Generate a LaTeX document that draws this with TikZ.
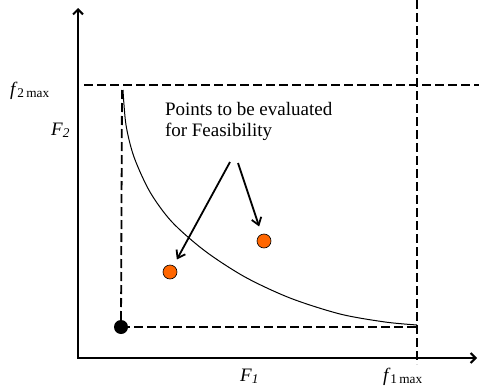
\documentclass[tikz,border=0pt]{standalone}
\usepackage{fontspec}
\setmainfont{Liberation Serif}
\usetikzlibrary{arrows.meta}

\tikzset{
  axis/.style={line width=2pt,line cap=rect,-{Straight Barb[length=5pt,width=10pt]}},
  bound/.style={line width=1.8pt,dash pattern=on 9pt off 4pt},
  callout/.style={line width=1.8pt,-{Straight Barb[length=7pt,width=10pt]}},
  lbl/.style={inner sep=0pt,outer sep=0pt,anchor=base west,font=\fontsize{19}{21.7}\selectfont},
  evalpt/.style={circle,draw=black,line width=0.6pt,fill={rgb,255:red,255;green,102;blue,0},minimum size=14pt,inner sep=0pt},
  idealpt/.style={circle,fill=black,minimum size=14pt,inner sep=0pt},
}

\begin{document}
\begin{tikzpicture}[x=1pt,y=-1pt]
\path[use as bounding box] (0,0) rectangle (479,388);
\path[fill=white,draw=none] (0,0) rectangle (479,388);
% axes
\coordinate (O) at (78,358);
\coordinate (ytop) at (78,8);
\coordinate (xend) at (477,358);
\draw[axis] (O) -- (ytop);
\draw[axis] (O) -- (xend);
% bounds
\coordinate (f2l) at (84,85);
\coordinate (f2r) at (479,85);
\coordinate (f1t) at (417,0);
\coordinate (f1b) at (417,364);
\coordinate (f2top) at (122,90);
\coordinate (f1corner) at (417,327);
\draw[bound] (f2l) -- (f2r);
\draw[bound] (f1t) -- (f1b);
\node[idealpt] (ideal) at (121,327) {};
\draw[bound] (f2top) -- (ideal.center);
\draw[bound] (ideal.center) -- (f1corner);
% pareto front
\draw[line width=1pt] plot[smooth] coordinates {(123,90) (126,125) (134,157) (150,192) (172,222) (205,251) (245,277) (290,298) (340,314) (385,322) (417,325)};
% points
\node[evalpt] (ptA) at (170,272) {};
\node[evalpt] (ptB) at (264,241) {};
\node[lbl,align=left] (pts) at (165,136.7) {Points to be evaluated\\for Feasibility};
\coordinate (c1) at (230,162);
\coordinate (c2) at (238,163);
\draw[callout,shorten >=7pt] (c1) -- (ptA);
\draw[callout,shorten >=8pt] (c2) -- (ptB);
% labels
\node[lbl] (f2max) at (10,95) {\textit{f}\textsubscript{2\,max}};
\node[lbl] (F2) at (51,135) {\textit{F}\textsubscript{\textit{2}}};
\node[lbl] (F1) at (240,381) {\textit{F}\textsubscript{\textit{1}}};
\node[lbl] (f1max) at (383,381) {\textit{f}\textsubscript{1\,max}};
\end{tikzpicture}
\end{document}
